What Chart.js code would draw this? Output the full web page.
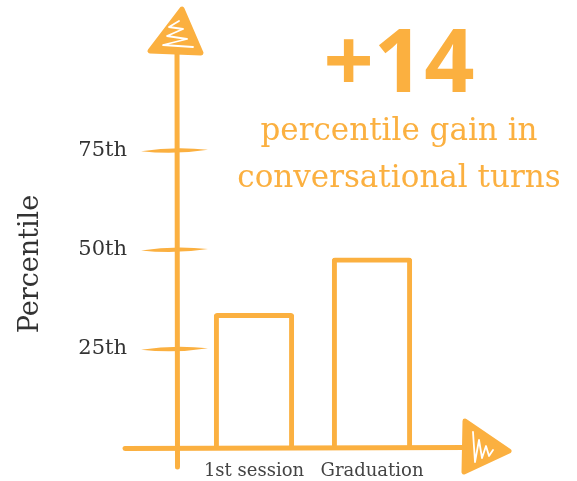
<!DOCTYPE html>
<html>
<head>
<meta charset="utf-8">
<script src="https://cdn.jsdelivr.net/npm/chart.js@4.4.1/dist/chart.umd.min.js"></script>
<style>
  html, body { margin: 0; padding: 0; background: #fff; }
</style>
</head>
<body>
<canvas id="turnsChart" width="577" height="481"></canvas>
<script>
const stages = ['1st session', 'Graduation'];
const percentiles = [34, 48];
const tickValues = [25, 50, 75];
const tickSuffix = 'th';
const axisTitle = 'Percentile';
const captionLines = ['percentile gain in', 'conversational turns'];

const ORANGE = '#FBB040';
const INK = '#333333';
const SERIF = '"DejaVu Serif", serif';

// tapered marker stroke, thick in the middle and thin at the ends
function brushStroke(ctx, x1, y1, x2, y2, w) {
    const mx = (x1 + x2) / 2, my = (y1 + y2) / 2;
    ctx.beginPath();
    ctx.moveTo(x1, y1);
    ctx.quadraticCurveTo(mx, my - w, x2, y2);
    ctx.quadraticCurveTo(mx, my + w, x1, y1);
    ctx.fill();
}

function scribbleTriangle(ctx, pts, scribble) {
    ctx.beginPath();
    ctx.moveTo(pts[0][0], pts[0][1]);
    pts.slice(1).forEach(p => ctx.lineTo(p[0], p[1]));
    ctx.closePath();
    ctx.lineWidth = 5;
    ctx.fill();
    ctx.stroke();
    // white zigzag so the head looks coloured in by hand
    ctx.save();
    ctx.strokeStyle = '#ffffff';
    ctx.lineWidth = 1.8;
    ctx.beginPath();
    ctx.moveTo(scribble[0][0], scribble[0][1]);
    scribble.slice(1).forEach(p => ctx.lineTo(p[0], p[1]));
    ctx.stroke();
    ctx.restore();
}

const sketchAxes = {
    id: 'sketchAxes',
    afterDatasetsDraw(chart) {
        const {ctx, chartArea, scales: {y}} = chart;
        const axisX = chartArea.left - 18;
        const axisY = y.getPixelForValue(0);
        const top = chartArea.top;
        const right = chartArea.right;

        ctx.save();
        ctx.strokeStyle = ORANGE;
        ctx.fillStyle = ORANGE;
        ctx.lineCap = 'round';
        ctx.lineJoin = 'round';
        ctx.lineWidth = 5;

        ctx.beginPath();
        ctx.moveTo(axisX + 0.5, axisY + 19);
        ctx.lineTo(axisX, top);
        ctx.stroke();

        ctx.beginPath();
        ctx.moveTo(axisX - 52, axisY + 0.5);
        ctx.lineTo(right + 36, axisY - 0.5);
        ctx.stroke();

        tickValues.forEach(v => {
            const py = y.getPixelForValue(v);
            brushStroke(ctx, axisX - 36, py + 1, axisX + 31, py - 0.5, 4.5);
        });

        scribbleTriangle(ctx,
            [[axisX + 5, top - 42], [axisX - 27, top], [axisX + 24, top + 2]],
            [[axisX + 2, top - 30], [axisX - 8, top - 24], [axisX + 6, top - 22],
             [axisX - 10, top - 15], [axisX + 10, top - 12], [axisX - 14, top - 6],
             [axisX + 16, top - 4]]);

        scribbleTriangle(ctx,
            [[right + 34, axisY - 27], [right + 78, axisY + 3], [right + 33, axisY + 24]],
            [[right + 42, axisY - 16], [right + 44, axisY + 14], [right + 48, axisY - 8],
             [right + 51, axisY + 10], [right + 55, axisY - 2], [right + 58, axisY + 8],
             [right + 62, axisY + 2]]);
        ctx.restore();
    },
    afterDraw(chart) {
        const {ctx} = chart;
        const gain = percentiles[percentiles.length - 1] - percentiles[0];
        ctx.save();
        ctx.textAlign = 'center';
        ctx.textBaseline = 'alphabetic';
        ctx.fillStyle = ORANGE;
        ctx.font = '700 88px "Open Sans", sans-serif';
        ctx.fillText('+' + gain, 399, 92);

        ctx.font = '31px ' + SERIF;
        ctx.fillText(captionLines[0], 399, 140);
        ctx.fillText(captionLines[1], 399, 187);

        // rotated y axis title
        ctx.fillStyle = INK;
        ctx.font = '27px ' + SERIF;
        ctx.translate(31, 264);
        ctx.rotate(-Math.PI / 2);
        ctx.textBaseline = 'middle';
        ctx.fillText(axisTitle, 0, 0);
        ctx.restore();
    }
};

const ctx = document.getElementById('turnsChart').getContext('2d');
const turnsChart = new Chart(ctx, {
    type: 'bar',
    data: {
        labels: stages,
        datasets: [{
            data: percentiles,
            backgroundColor: 'rgba(0, 0, 0, 0)',
            borderColor: ORANGE,
            borderWidth: 5,
            borderSkipped: 'bottom',
            borderRadius: {topLeft: 3, topRight: 3},
            barPercentage: 0.68,
            categoryPercentage: 1,
        }],
    },
    options: {
        responsive: false,
        devicePixelRatio: 1,
        animation: false,
        layout: {
            padding: {left: 0, right: 146, top: 51, bottom: 0},
        },
        plugins: {
            legend: {display: false},
            tooltip: {enabled: false},
        },
        scales: {
            x: {
                // tick marks stay hidden; their length only spaces the labels
                grid: {display: false, drawTicks: true, tickLength: 13},
                border: {display: false},
                ticks: {
                    color: '#444444',
                    font: {family: SERIF, size: 18},
                    padding: 0,
                },
                afterFit(scale) {
                    scale.height = 33;
                },
            },
            y: {
                min: 0,
                max: 100,
                grid: {display: false, drawTicks: true, tickLength: 68},
                border: {display: false},
                afterBuildTicks(scale) {
                    scale.ticks = tickValues.map(v => ({value: v}));
                },
                ticks: {
                    color: INK,
                    font: {family: SERIF, size: 21},
                    padding: 0,
                    callback: v => v + tickSuffix,
                },
                afterFit(scale) {
                    scale.width = 195;
                },
            },
        },
    },
    plugins: [sketchAxes],
});
</script>
</body>
</html>
